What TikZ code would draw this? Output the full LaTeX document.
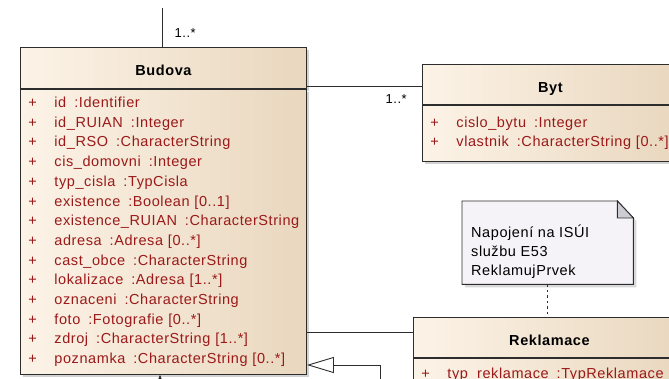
\documentclass[tikz,border=0pt]{standalone}
\usepackage{fontspec}
\setmainfont{Liberation Sans}
\newfontfamily\umlfont[LetterSpace=4]{Liberation Sans}
\usetikzlibrary{positioning,calc,arrows.meta,shadows}
\definecolor{classl}{RGB}{252,243,231}
\definecolor{classr}{RGB}{233,215,190}
\definecolor{attred}{RGB}{155,25,25}
\definecolor{notefill}{RGB}{245,243,247}
\definecolor{foldfill}{RGB}{205,204,210}
\definecolor{umlline}{RGB}{45,45,45}
\newcommand{\att}[2]{\makebox[26pt][l]{+}#1\hspace{8pt}#2}

\begin{document}
\begin{tikzpicture}[
    x=1pt, y=-1pt,
    head/.style={rectangle,draw=umlline,line width=0.9pt,left color=classl,right color=classr,
        drop shadow={shadow xshift=3pt,shadow yshift=-3pt,fill=black!35},
        anchor=north west,inner sep=0pt,text height=16pt,text depth=0pt,
        font=\umlfont\bfseries\fontsize{14.5}{17}\selectfont},
    body/.style={rectangle,draw=umlline,line width=0.9pt,left color=classl,right color=classr,
        drop shadow={shadow xshift=3pt,shadow yshift=-3pt,fill=black!35},
        text=attred,align=left,inner xsep=8pt,inner ysep=0pt,
        font=\umlfont\fontsize{14.5}{19.7}\selectfont},
    notebox/.style={draw=umlline,line width=0.9pt,fill=notefill,
        drop shadow={shadow xshift=3pt,shadow yshift=-3pt,fill=black!30}},
    notetext/.style={align=left,inner sep=0pt,font=\umlfont\fontsize{14.5}{19}\selectfont},
    mult/.style={inner sep=0pt,font=\umlfont\fontsize{13}{15}\selectfont},
    assoc/.style={draw=umlline,line width=0.9pt},
    notelink/.style={draw=umlline,line width=1.2pt,dash pattern=on 2.5pt off 3pt}
    ]
        \useasboundingbox (0,0) rectangle (669,379);

        \node [head,minimum width=286pt,minimum height=41pt](budova-head) at (20,47) {Budova};
        \node [body,minimum width=286pt,minimum height=285pt,text width=270pt,below=0pt of budova-head](budova-body) {%
            \att{id}{:Identifier}\\
            \att{id\_RUIAN}{:Integer}\\
            \att{id\_RSO}{:CharacterString}\\
            \att{cis\_domovni}{:Integer}\\
            \att{typ\_cisla}{:TypCisla}\\
            \att{existence}{:Boolean [0..1]}\\
            \att{existence\_RUIAN}{:CharacterString}\\
            \att{adresa}{:Adresa [0..*]}\\
            \att{cast\_obce}{:CharacterString}\\
            \att{lokalizace}{:Adresa [1..*]}\\
            \att{oznaceni}{:CharacterString}\\
            \att{foto}{:Fotografie [0..*]}\\
            \att{zdroj}{:CharacterString [1..*]}\\
            \att{poznamka}{:CharacterString [0..*]}};

        \node [head,minimum width=256pt,minimum height=40pt](byt-head) at (422,64) {Byt};
        \node [body,minimum width=256pt,minimum height=56pt,text width=240pt,below=0pt of byt-head](byt-body) {%
            \att{cislo\_bytu}{:Integer}\\
            \att{vlastnik}{:CharacterString [0..*]}};

        \node [head,minimum width=272pt,minimum height=40pt](rekl-head) at (413,317) {Reklamace};
        \node [body,minimum width=272pt,minimum height=32pt,text width=256pt,below=0pt of rekl-head](rekl-body) {%
            \att{typ\_reklamace}{:TypReklamace}};

        % note with folded corner
        \node [anchor=north west,inner sep=0pt,minimum width=171pt,minimum height=83pt](note) at (462,201) {};
        \path [notebox] (note.north west) -- ([xshift=-16pt]note.north east) -- ([yshift=-17pt]note.north east)
            -- (note.south east) -- (note.south west) -- cycle;
        \draw [umlline,line width=0.9pt,fill=foldfill] ([xshift=-16pt]note.north east) |- ([yshift=-17pt]note.north east) -- cycle;
        \node [notetext,below right=24pt and 9pt of note.north west](notetext) {Napojení na ISÚI\\službu E53\\ReklamujPrvek};

        \coordinate (topend) at (162,8);
        \coordinate (genfoot) at (380,395);
        \coordinate (genknee) at (380,365);
        \coordinate (navfoot) at (160,400);

        \draw [assoc] (topend) -- (topend |- budova-head.north);
        \node [mult,above right=9pt and 11pt of budova-head.north](mult-top) {1..*};
        \draw [assoc] ([yshift=-2pt]byt-head.west) -- ([yshift=-2pt]byt-head.west -| budova-head.east);
        \node [mult,below left=10pt and 15pt of byt-head.west](mult-byt) {1..*};
        \draw [assoc] ([yshift=5pt]rekl-head.west) -- ([yshift=5pt]rekl-head.west -| budova-body.east);
        \draw [assoc,-{Triangle[length=27pt,width=16pt,fill=white]}] (genfoot) -- (genknee) -- (genknee -| budova-body.east);
        \draw [assoc,-{Stealth[length=9pt,width=7pt]}] (navfoot) -- (navfoot |- budova-body.south);
        \draw [notelink] (note.south) -- (note.south |- rekl-head.north);
\end{tikzpicture}
\end{document}
